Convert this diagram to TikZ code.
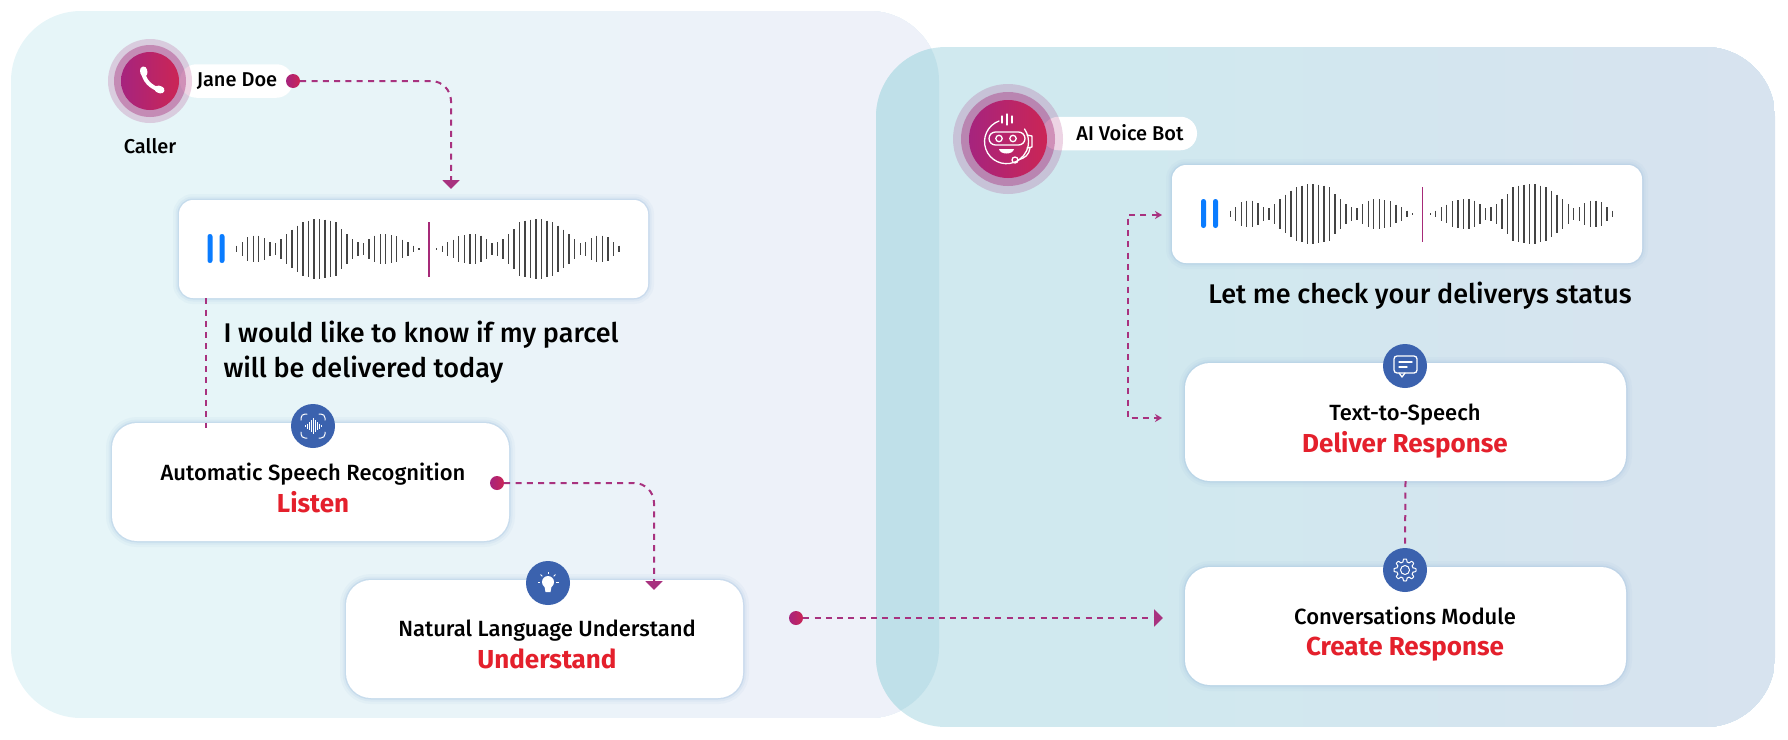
\documentclass[tikz,border=0pt]{standalone}
\usepackage{fontspec}
\setmainfont{Fira Sans}[UprightFont=* Medium, BoldFont=* Bold]
\usetikzlibrary{arrows.meta}
\definecolor{flowcol}{HTML}{A8327F}
\definecolor{ringcol}{HTML}{A62A78}
\definecolor{plumcol}{HTML}{A6247E}
\definecolor{rosecol}{HTML}{CB2555}
\definecolor{iconcol}{HTML}{3B62AE}
\definecolor{verbcol}{HTML}{E4202C}
\definecolor{barcol}{HTML}{444444}
\definecolor{pausecol}{HTML}{0A7CFF}
\definecolor{edgecol}{HTML}{A9C6E2}
\definecolor{callerleft}{HTML}{E6F5F8}
\definecolor{callerright}{HTML}{EEF1F9}
\definecolor{botleft}{HTML}{D0E9EF}
\definecolor{botright}{HTML}{D8E2EF}
\definecolor{overlapcol}{HTML}{BFE0E9}
\tikzset{
    cardbox/.style={fill=white, rounded corners=#1, preaction={draw=edgecol, opacity=0.10, line width=12pt}, preaction={draw=edgecol, opacity=0.15, line width=7pt}, preaction={draw=edgecol, opacity=0.35, line width=3pt}},
    cardbox/.default=25pt,
    titletext/.style={font=\fontsize{22}{24}\selectfont, text=black, text height=20pt, text depth=5pt, inner sep=0pt},
    verbtext/.style={font=\fontsize{26}{28}\selectfont\bfseries, text=verbcol, text height=25pt, text depth=6pt, inner sep=0pt},
    speechtext/.style={font=\fontsize{27}{30}\selectfont, text=black},
    nametext/.style={font=\fontsize{20}{22}\selectfont, text=black},
    pillbox/.style={fill=white, rounded corners=16.5pt, minimum height=33.5pt},
    iconbadge/.style={circle, fill=iconcol, minimum size=44pt, inner sep=0pt},
    flowdot/.style={circle, left color=plumcol, right color=rosecol, minimum size=14pt, inner sep=0pt},
    flowline/.style={draw=flowcol, line width=2pt, dash pattern=on 6pt off 5.3pt},
    flowhead/.style={-{Triangle[width=17pt, length=9pt]}},
    smallhead/.style={{Stealth[width=8pt, length=7pt]}-{Stealth[width=8pt, length=7pt]}},
    iconline/.style={draw=white, line width=1.3pt, line cap=round, line join=round},
    pics/voicewave/.style={code={
        \fill[pausecol, rounded corners=2.4pt] (-206,-15) rectangle (-201,14);
        \fill[pausecol, rounded corners=2.4pt] (-194,-15) rectangle (-189,14);
        \foreach \h [count=\n] in {10,20,35,40,40,33,20,18,30,45,58,70,80,85,90,90,88,85,80,60,45,30,20,18,30,40,44,45,42,38,28,20,10,2}
            \draw[barcol, line width=1.4pt] ({-176.8+5.52*(\n-1)},{-\h/3}) -- ({-176.8+5.52*(\n-1)},{\h/3});
        \foreach \h [count=\n] in {2,10,20,28,38,42,45,44,40,30,18,20,30,45,60,80,85,88,90,90,85,80,70,58,45,30,18,20,33,40,40,35,20,10}
            \draw[barcol, line width=1.4pt] ({23.2+5.52*(\n-1)},{-\h/3}) -- ({23.2+5.52*(\n-1)},{\h/3});
        \draw[ringcol, line width=1.8pt] (15.5,-27) -- (15.5,28);
    }}
}
\begin{document}
\begin{tikzpicture}[x=1pt, y=-1pt]
    \useasboundingbox (0,0) rectangle (1788,739);
    \begin{scope}
        \clip[rounded corners=70pt] (11,11) rectangle (939,718);
        \fill[callerleft] (11,11) rectangle (939,718);
        \foreach \p in {10,20,...,100}
            \fill[callerright!\p!callerleft] ({200+\p*6},11) rectangle (939,718);
    \end{scope}
    \begin{scope}
        \clip[rounded corners=70pt] (876,47) rectangle (1775,727);
        \fill[botleft] (876,47) rectangle (1775,727);
        \foreach \p in {10,20,...,100}
            \fill[botright!\p!botleft] ({1100+\p*6.75},47) rectangle (1775,727);
    \end{scope}
    \begin{scope}
        \clip[rounded corners=70pt] (11,11) rectangle (939,718);
        \fill[rounded corners=70pt, fill=overlapcol] (876,47) rectangle (1775,727);
    \end{scope}
    \node (callerpill) [pillbox, minimum width=113pt] at (236.5,81) {};
    \node (callerouter) [circle, fill=ringcol, opacity=0.2, minimum size=84pt, inner sep=0pt] at (150,81) {};
    \node (callermid) [circle, fill=ringcol, opacity=0.4, minimum size=72pt, inner sep=0pt] at (150,81) {};
    \node (callerdisc) [circle, left color=plumcol, right color=rosecol, minimum size=58pt, inner sep=0pt] at (150,81) {};
    \draw[white, line width=4pt, line cap=round] (143,70) .. controls (143,80) and (151,88) .. (161,90);
    \draw[white, line width=7pt, line cap=round] (143.5,70) -- (144,73);
    \draw[white, line width=7pt, line cap=round] (158,89) -- (161,90);
    \node (callername) [nametext] at (237,81) {Jane Doe};
    \node (callerrole) [nametext] at (150,146) {Caller};
    \node (callerdot) [flowdot] at (293,81) {};
    \coordinate (wavetop) at (451,189);
    \node (leftwave) [cardbox=14pt, minimum width=469pt, minimum height=98pt] at (413.5,249) {};
    \pic at (leftwave.center) {voicewave};
    \node (speechone) [speechtext, anchor=west] at (220,335) {I would like to know if my parcel};
    \node (speechtwo) [speechtext, anchor=west] at (220,370) {will be delivered today};
    \node (asrbox) [cardbox, minimum width=397pt, minimum height=118pt] at (310.5,482) {};
    \node (asricon) [iconbadge] at (313,426) {};
    \draw[iconline, line width=1pt] (301,420) -- (301,418) arc (180:270:4) -- (307,414);
    \draw[iconline, line width=1pt] (325,420) -- (325,418) arc (0:-90:4) -- (319,414);
    \draw[iconline, line width=1pt] (301,432) -- (301,434) arc (180:90:4) -- (307,438);
    \draw[iconline, line width=1pt] (325,432) -- (325,434) arc (0:90:4) -- (319,438);
    \foreach \dx/\dh in {-8/1,-6/2.5,-4/4,-2/6,0/8,2/6,4/4,6/2.5,8/1}
        \draw[white, line width=1pt] (313+\dx,426-\dh) -- (313+\dx,426+\dh);
    \node (asrname) [titletext] at (313,473) {Automatic Speech Recognition};
    \node (asrverb) [verbtext] at (313,503) {Listen};
    \node (asrdot) [flowdot] at (497,483) {};
    \coordinate (nlutop) at (654,590);
    \node (nlubox) [cardbox, minimum width=397pt, minimum height=118pt] at (544.5,639) {};
    \node (nluicon) [iconbadge] at (548,583) {};
    \fill[white] (548,582) circle (6);
    \fill[white] (544,584) -- (552,584) -- (550.5,592) -- (545.5,592) -- cycle;
    \foreach \a in {180,225,270,315,0}
        \draw[white, line width=1pt] (548,582) ++(\a:8) -- ++(\a:2.5);
    \node (nluname) [titletext] at (547,629) {Natural Language Understand};
    \node (nluverb) [verbtext] at (547,659) {Understand};
    \node (nludot) [flowdot] at (796,618) {};
    \node (botpill) [pillbox, minimum width=155pt] at (1119.5,133.5) {};
    \node (botouter) [circle, fill=ringcol, opacity=0.2, minimum size=110pt, inner sep=0pt] at (1008,139) {};
    \node (botmid) [circle, fill=ringcol, opacity=0.4, minimum size=94pt, inner sep=0pt] at (1008,139) {};
    \node (botdisc) [circle, left color=plumcol, right color=rosecol, minimum size=78pt, inner sep=0pt] at (1008,139) {};
    \draw[iconline] (999,121) arc (-110:-395:22);
    \draw[iconline] (1002,116) -- (1002,123);
    \draw[iconline] (1007,114) -- (1007,125);
    \draw[iconline] (1012,116) -- (1012,123);
    \draw[iconline, rounded corners=6.5pt] (989,132) rectangle (1025,145);
    \draw[iconline] (999,138.5) circle (3.2);
    \draw[iconline] (1013,138.5) circle (3.2);
    \fill[white] (999,149) -- (1014,149) .. controls (1013,155) and (1000,155) .. (999,149);
    \draw[iconline] (1027,135) -- (1032,136) -- (1032,147) -- (1027,148);
    \draw[iconline] (1030,148) .. controls (1029,155) and (1025,158) .. (1018,160);
    \draw[iconline] (1015,160) circle (3);
    \node (botname) [nametext] at (1130,133) {AI Voice Bot};
    \node (rightwave) [cardbox=14pt, minimum width=470pt, minimum height=98pt] at (1407,214) {};
    \pic at (rightwave.center) {voicewave};
    \node (speechbot) [speechtext] at (1420,296) {Let me check your deliverys status};
    \node (ttsbox) [cardbox, minimum width=441pt, minimum height=118pt] at (1405.5,422) {};
    \node (ttsicon) [iconbadge] at (1405,366) {};
    \draw[iconline, rounded corners=3pt] (1394,356) rectangle (1417,373);
    \draw[iconline] (1399,373) -- (1402,377) -- (1405,373);
    \draw[iconline] (1399,362) -- (1412,362);
    \draw[iconline] (1399,367) -- (1407,367);
    \node (ttsname) [titletext] at (1405,413) {Text-to-Speech};
    \node (ttsverb) [verbtext] at (1405,443) {Deliver Response};
    \node (convbox) [cardbox, minimum width=441pt, minimum height=118pt] at (1405.5,626) {};
    \node (convicon) [iconbadge] at (1405,570) {};
    \draw[iconline, line width=1pt, shift={(convicon.center)}] plot[samples=97, domain=0:360] (\x:{9.6+1.4*max(-1,min(1,2*cos(8*\x)))}) -- cycle;
    \draw[iconline, line width=1pt] (convicon.center) circle (4.5);
    \node (convname) [titletext] at (1405,617) {Conversations Module};
    \node (convverb) [verbtext] at (1405,646) {Create Response};
    \coordinate (waveport) at (1162,215);
    \coordinate (ttsport) at (1162,418);
    \coordinate (convport) at (1163,618);
    \coordinate (asrport) at (206,428);
    \draw[flowline, flowhead, rounded corners=20pt] (callerdot.east) -| (wavetop);
    \draw[flowline] (leftwave.south -| asrport) -- (asrport);
    \draw[flowline, flowhead, rounded corners=20pt] (asrdot.east) -| (nlutop);
    \draw[flowline, flowhead] (nludot.east) -- (convport);
    \draw[flowline, smallhead] (waveport) -- ++(-34.5,0) |- (ttsport);
    \draw[flowline] (ttsbox.south) -- (convicon.north);
\end{tikzpicture}
\end{document}
